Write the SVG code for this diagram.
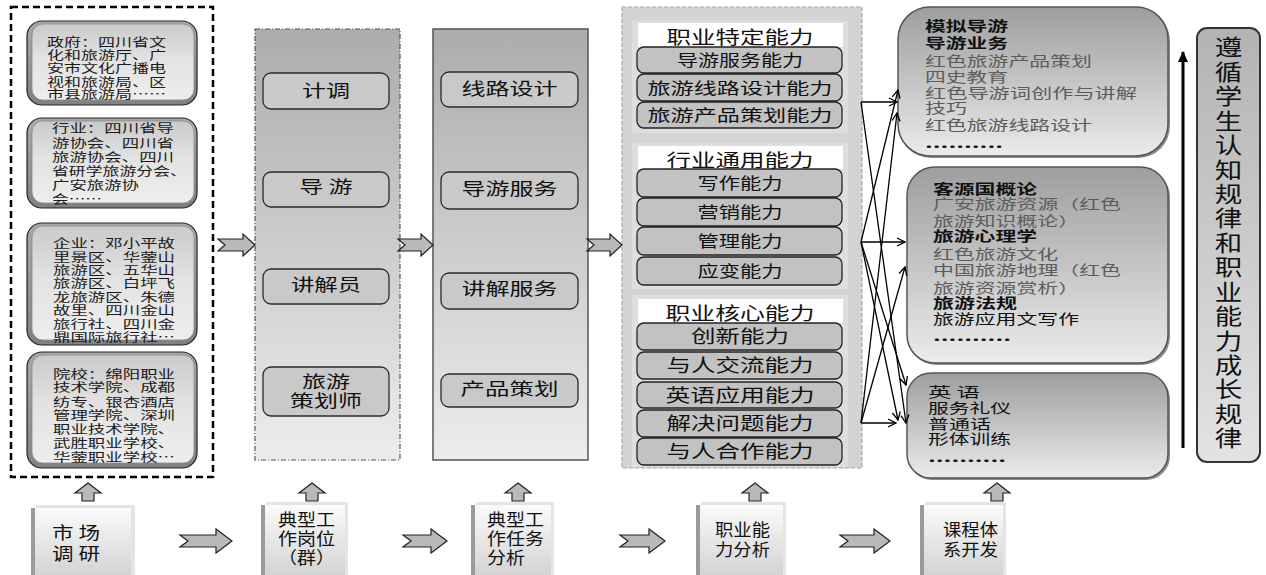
<svg xmlns="http://www.w3.org/2000/svg" width="1266" height="575" viewBox="0 0 1266 575">
<defs>
<linearGradient id="gBevel" x1="0" y1="0" x2="0" y2="1"><stop offset="0" stop-color="#a8a8a8"/><stop offset="1" stop-color="#808080"/></linearGradient>
<linearGradient id="gLeftIn" x1="0" y1="0" x2="0" y2="1"><stop offset="0" stop-color="#cacaca"/><stop offset="0.45" stop-color="#e2e2e2"/><stop offset="1" stop-color="#eeeeee"/></linearGradient>
<linearGradient id="gCol" x1="0" y1="0" x2="0" y2="1"><stop offset="0" stop-color="#acacac"/><stop offset="1" stop-color="#ececec"/></linearGradient>
<linearGradient id="gCourse" x1="0" y1="0" x2="0" y2="1"><stop offset="0" stop-color="#9e9e9e"/><stop offset="1" stop-color="#ebebeb"/></linearGradient>
<linearGradient id="gBottom" x1="0" y1="0" x2="0" y2="1"><stop offset="0" stop-color="#fbfbfb"/><stop offset="1" stop-color="#d3d3d3"/></linearGradient>
<linearGradient id="gVert" x1="0" y1="0" x2="0" y2="1"><stop offset="0" stop-color="#b3b3b3"/><stop offset="1" stop-color="#e3e3e3"/></linearGradient>
<marker id="ah" markerWidth="10" markerHeight="10" refX="9" refY="5" orient="auto" markerUnits="userSpaceOnUse"><path d="M1,1 L9,5 L1,9" fill="none" stroke="#000" stroke-width="1.3"/></marker>
<marker id="ahBig" markerWidth="12" markerHeight="12" refX="10" refY="6" orient="auto" markerUnits="userSpaceOnUse"><path d="M0,1 L11,6 L0,11 Z" fill="#000"/></marker>
</defs>
<style>
.cjk{font-family:"Noto Sans CJK SC","Noto Sans CJK JP",sans-serif;}
.lt{font-size:12px;fill:#1a1a1a;}
.c2{font-size:17px;fill:#111;text-anchor:middle;}
.sub{font-size:16px;fill:#111;text-anchor:middle;}
.hd{font-size:18px;fill:#111;text-anchor:middle;}
.ct{font-size:13.5px;fill:#111;}
.bt{font-size:17px;fill:#111;}
.b{font-weight:bold;}
.gr{fill:#5c5c5c;}
.bevel{fill:url(#gBevel);stroke:#222;stroke-width:1.2;}
.bevin{fill:url(#gLeftIn);stroke:#8a8a8a;stroke-width:0.8;}
.ibox{fill:#c9c9c9;stroke:#2a2a2a;stroke-width:1.3;}
.sbox{fill:#c2c2c2;stroke:#222;stroke-width:1.3;}
.chev{fill:#b9b9b9;stroke:#222;stroke-width:1.2;}
.course{fill:url(#gCourse);stroke:#555;stroke-width:1.5;}
.shadow{fill:#8c8c8c;}
.bback{fill:#e4e4e4;}
.bfront{fill:url(#gBottom);}
.bbar{fill:#9a9a9a;}
.conn line{stroke:#000;stroke-width:1.3;marker-end:url(#ah);}
</style>
<rect width="1266" height="575" fill="#fff"/>

<g id="stakeholders">
<rect x="11" y="7" width="202" height="470" fill="none" stroke="#000" stroke-width="2.5" stroke-dasharray="7 4"/>
</g>
<g id="gov">
<rect class="bevel" x="27" y="21" width="170" height="84" rx="15"/>
<rect class="bevin" x="32" y="24" width="162" height="76" rx="11"/>
<text class="cjk lt"><tspan x="47" y="47" textLength="119" lengthAdjust="spacingAndGlyphs">政府：四川省文</tspan><tspan x="47" y="60" textLength="119" lengthAdjust="spacingAndGlyphs">化和旅游厅、广</tspan><tspan x="47" y="73" textLength="119" lengthAdjust="spacingAndGlyphs">安市文化广播电</tspan><tspan x="47" y="87" textLength="119" lengthAdjust="spacingAndGlyphs">视和旅游局、区</tspan><tspan x="47" y="99" textLength="119" lengthAdjust="spacingAndGlyphs">市县旅游局……</tspan></text>
</g>
<g id="industry">
<rect class="bevel" x="27" y="118" width="170" height="90" rx="15"/>
<rect class="bevin" x="32" y="121" width="162" height="82" rx="11"/>
<text class="cjk lt"><tspan x="52" y="133" textLength="122" lengthAdjust="spacingAndGlyphs">行业：四川省导</tspan><tspan x="52" y="148" textLength="122" lengthAdjust="spacingAndGlyphs">游协会、四川省</tspan><tspan x="52" y="162" textLength="122" lengthAdjust="spacingAndGlyphs">旅游协会、四川</tspan><tspan x="52" y="176" textLength="135" lengthAdjust="spacingAndGlyphs">省研学旅游分会、</tspan><tspan x="52" y="190" textLength="87" lengthAdjust="spacingAndGlyphs">广安旅游协</tspan><tspan x="52" y="204" textLength="50" lengthAdjust="spacingAndGlyphs">会……</tspan></text>
</g>
<g id="enterprise">
<rect class="bevel" x="27" y="223" width="170" height="122" rx="15"/>
<rect class="bevin" x="32" y="226" width="162" height="114" rx="11"/>
<text class="cjk lt"><tspan x="53" y="248" textLength="122" lengthAdjust="spacingAndGlyphs">企业：邓小平故</tspan><tspan x="53" y="262" textLength="122" lengthAdjust="spacingAndGlyphs">里景区、华蓥山</tspan><tspan x="53" y="275" textLength="122" lengthAdjust="spacingAndGlyphs">旅游区、五华山</tspan><tspan x="53" y="288" textLength="122" lengthAdjust="spacingAndGlyphs">旅游区、白坪飞</tspan><tspan x="53" y="302" textLength="122" lengthAdjust="spacingAndGlyphs">龙旅游区、朱德</tspan><tspan x="53" y="315" textLength="122" lengthAdjust="spacingAndGlyphs">故里、四川金山</tspan><tspan x="53" y="329" textLength="122" lengthAdjust="spacingAndGlyphs">旅行社、四川金</tspan><tspan x="53" y="342" textLength="122" lengthAdjust="spacingAndGlyphs">鼎国际旅行社…</tspan></text>
</g>
<g id="college">
<rect class="bevel" x="27" y="352" width="170" height="116" rx="15"/>
<rect class="bevin" x="32" y="355" width="162" height="108" rx="11"/>
<text class="cjk lt"><tspan x="53" y="379" textLength="122" lengthAdjust="spacingAndGlyphs">院校：绵阳职业</tspan><tspan x="53" y="392" textLength="122" lengthAdjust="spacingAndGlyphs">技术学院、成都</tspan><tspan x="53" y="407" textLength="122" lengthAdjust="spacingAndGlyphs">纺专、银杏酒店</tspan><tspan x="53" y="420" textLength="122" lengthAdjust="spacingAndGlyphs">管理学院、深圳</tspan><tspan x="53" y="434" textLength="122" lengthAdjust="spacingAndGlyphs">职业技术学院、</tspan><tspan x="53" y="448" textLength="122" lengthAdjust="spacingAndGlyphs">武胜职业学校、</tspan><tspan x="53" y="462" textLength="122" lengthAdjust="spacingAndGlyphs">华蓥职业学校…</tspan></text>
</g>

<g id="positions">
<rect x="255" y="29" width="145" height="431" fill="url(#gCol)" stroke="#555" stroke-width="1.2" stroke-dasharray="5 2 1 2"/>
</g>
<g id="pos-jidiao"><rect class="ibox" x="263" y="73" width="126" height="36" rx="8"/><text class="cjk c2" x="326" y="97" textLength="48" lengthAdjust="spacingAndGlyphs">计调</text></g>
<g id="pos-daoyou"><rect class="ibox" x="263" y="172" width="126" height="35" rx="8"/><text class="cjk c2" x="326" y="193" textLength="53" lengthAdjust="spacingAndGlyphs">导 游</text></g>
<g id="pos-jiangjie"><rect class="ibox" x="263" y="269" width="126" height="35" rx="8"/><text class="cjk c2" x="326" y="291" textLength="70" lengthAdjust="spacingAndGlyphs">讲解员</text></g>
<g id="pos-cehua"><rect class="ibox" x="263" y="367" width="126" height="49" rx="8" fill="#c0c0c0"/><text class="cjk c2"><tspan x="326" y="388" textLength="48" lengthAdjust="spacingAndGlyphs">旅游</tspan><tspan x="326" y="407" textLength="72" lengthAdjust="spacingAndGlyphs">策划师</tspan></text></g>

<g id="tasks">
<rect x="433" y="29" width="155" height="431" fill="url(#gCol)" stroke="#555" stroke-width="1.5"/>
</g>
<g id="task-xianlu"><rect class="ibox" x="441" y="72" width="137" height="35" rx="8"/><text class="cjk c2" x="509.5" y="95" textLength="96" lengthAdjust="spacingAndGlyphs">线路设计</text></g>
<g id="task-daoyou"><rect class="ibox" x="441" y="172" width="137" height="37" rx="8"/><text class="cjk c2" x="509.5" y="195" textLength="96" lengthAdjust="spacingAndGlyphs">导游服务</text></g>
<g id="task-jiangjie"><rect class="ibox" x="441" y="273" width="137" height="36" rx="8"/><text class="cjk c2" x="509.5" y="295" textLength="96" lengthAdjust="spacingAndGlyphs">讲解服务</text></g>
<g id="task-chanpin"><rect class="ibox" x="441" y="374" width="137" height="33" rx="8"/><text class="cjk c2" x="509.5" y="395" textLength="98" lengthAdjust="spacingAndGlyphs">产品策划</text></g>

<g id="abilities">
<rect x="622" y="7" width="240" height="461" fill="#d4d4d4" stroke="#a8a8a8" stroke-width="1.2" stroke-dasharray="4 2"/>
<rect x="632" y="21" width="216" height="112" fill="#dedede"/>
<rect x="632" y="143" width="216" height="146" fill="#dedede"/>
<rect x="632" y="295" width="216" height="172" fill="#dedede"/>
</g>
<g id="ab-specific">
<rect x="638" y="23" width="205" height="24" fill="#fff"/>
<text class="cjk hd" x="740" y="44" textLength="147" lengthAdjust="spacingAndGlyphs">职业特定能力</text>
<rect class="sbox" x="637" y="47" width="205" height="26" rx="7"/><text class="cjk sub" x="740" y="66" textLength="126" lengthAdjust="spacingAndGlyphs">导游服务能力</text>
<rect class="sbox" x="637" y="74" width="205" height="27" rx="7"/><text class="cjk sub" x="740" y="93.5" textLength="185" lengthAdjust="spacingAndGlyphs">旅游线路设计能力</text>
<rect class="sbox" x="637" y="102" width="205" height="26" rx="7"/><text class="cjk sub" x="740" y="121" textLength="185" lengthAdjust="spacingAndGlyphs">旅游产品策划能力</text>
</g>
<g id="ab-general">
<rect x="638" y="146" width="205" height="23" fill="#fff"/>
<text class="cjk hd" x="740" y="167" textLength="147" lengthAdjust="spacingAndGlyphs">行业通用能力</text>
<rect class="sbox" x="637" y="169" width="205" height="28" rx="7"/><text class="cjk sub" x="740" y="189" textLength="85" lengthAdjust="spacingAndGlyphs">写作能力</text>
<rect class="sbox" x="637" y="198" width="205" height="28" rx="7"/><text class="cjk sub" x="740" y="218" textLength="85" lengthAdjust="spacingAndGlyphs">营销能力</text>
<rect class="sbox" x="637" y="227" width="205" height="28" rx="7"/><text class="cjk sub" x="740" y="247" textLength="85" lengthAdjust="spacingAndGlyphs">管理能力</text>
<rect class="sbox" x="637" y="257" width="205" height="28" rx="7"/><text class="cjk sub" x="740" y="277" textLength="85" lengthAdjust="spacingAndGlyphs">应变能力</text>
</g>
<g id="ab-core">
<rect x="638" y="299" width="205" height="24" fill="#fff"/>
<text class="cjk hd" x="740" y="320" textLength="149" lengthAdjust="spacingAndGlyphs">职业核心能力</text>
<rect class="sbox" x="637" y="323" width="205" height="27" rx="7"/><text class="cjk hd" x="740" y="343" textLength="98" lengthAdjust="spacingAndGlyphs">创新能力</text>
<rect class="sbox" x="637" y="352" width="205" height="27" rx="7"/><text class="cjk hd" x="740" y="372" textLength="147" lengthAdjust="spacingAndGlyphs">与人交流能力</text>
<rect class="sbox" x="637" y="382" width="205" height="26" rx="7"/><text class="cjk hd" x="740" y="401.5" textLength="149" lengthAdjust="spacingAndGlyphs">英语应用能力</text>
<rect class="sbox" x="637" y="410" width="205" height="27" rx="7"/><text class="cjk hd" x="740" y="430" textLength="147" lengthAdjust="spacingAndGlyphs">解决问题能力</text>
<rect class="sbox" x="637" y="438" width="205" height="27" rx="7"/><text class="cjk hd" x="740" y="458" textLength="147" lengthAdjust="spacingAndGlyphs">与人合作能力</text>
</g>

<g id="course-a">
<rect class="shadow" x="899" y="9" width="271" height="149" rx="32"/>
<rect class="course" x="898" y="7" width="270" height="149" rx="32"/>
<text class="cjk ct"><tspan class="b" x="925" y="30.5" textLength="83" lengthAdjust="spacingAndGlyphs">模拟导游</tspan><tspan class="b" x="925" y="47.5" textLength="83" lengthAdjust="spacingAndGlyphs">导游业务</tspan><tspan class="gr" x="925" y="65.5" textLength="167" lengthAdjust="spacingAndGlyphs">红色旅游产品策划</tspan><tspan class="gr" x="925" y="81.5" textLength="83" lengthAdjust="spacingAndGlyphs">四史教育</tspan><tspan class="gr" x="925" y="97.5" textLength="212" lengthAdjust="spacingAndGlyphs">红色导游词创作与讲解</tspan><tspan class="gr" x="925" y="112.5" textLength="42" lengthAdjust="spacingAndGlyphs">技巧</tspan><tspan class="gr" x="925" y="129.5" textLength="167" lengthAdjust="spacingAndGlyphs">红色旅游线路设计</tspan><tspan class="b" x="925" y="148" textLength="78" lengthAdjust="spacingAndGlyphs">..........</tspan></text>
</g>
<g id="course-b">
<rect class="shadow" x="908" y="169" width="262" height="196" rx="28"/>
<rect class="course" x="907" y="167" width="261" height="196" rx="28"/>
<text class="cjk ct"><tspan class="b" x="933" y="193.5" textLength="104" lengthAdjust="spacingAndGlyphs">客源国概论</tspan><tspan class="gr" x="933" y="208.5" textLength="188" lengthAdjust="spacingAndGlyphs">广安旅游资源（红色</tspan><tspan class="gr" x="933" y="225.5" textLength="146" lengthAdjust="spacingAndGlyphs">旅游知识概论）</tspan><tspan class="b" x="933" y="240.5" textLength="104" lengthAdjust="spacingAndGlyphs">旅游心理学</tspan><tspan class="gr" x="933" y="258.5" textLength="125" lengthAdjust="spacingAndGlyphs">红色旅游文化</tspan><tspan class="gr" x="933" y="274.5" textLength="188" lengthAdjust="spacingAndGlyphs">中国旅游地理（红色</tspan><tspan class="gr" x="933" y="292.5" textLength="146" lengthAdjust="spacingAndGlyphs">旅游资源赏析）</tspan><tspan class="b" x="933" y="307.5" textLength="84" lengthAdjust="spacingAndGlyphs">旅游法规</tspan><tspan x="933" y="323.5" textLength="146" lengthAdjust="spacingAndGlyphs">旅游应用文写作</tspan><tspan class="b" x="933" y="341" textLength="78" lengthAdjust="spacingAndGlyphs">..........</tspan></text>
</g>
<g id="course-c">
<rect class="shadow" x="908" y="375" width="262" height="105" rx="24"/>
<rect class="course" x="907" y="373" width="261" height="105" rx="24"/>
<text class="cjk ct"><tspan x="928" y="396.5" textLength="52" lengthAdjust="spacingAndGlyphs">英 语</tspan><tspan x="928" y="412.5" textLength="83" lengthAdjust="spacingAndGlyphs">服务礼仪</tspan><tspan x="928" y="428.5" textLength="63" lengthAdjust="spacingAndGlyphs">普通话</tspan><tspan x="928" y="443.5" textLength="83" lengthAdjust="spacingAndGlyphs">形体训练</tspan><tspan class="b" x="928" y="462" textLength="78" lengthAdjust="spacingAndGlyphs">..........</tspan></text>
</g>

<g id="rule">
<rect x="1197" y="28" width="63" height="434" rx="10" fill="url(#gVert)" stroke="#333" stroke-width="2"/>
<g transform="translate(1228.5,0) scale(1.25,1)">
<text class="cjk" x="0" y="36" font-size="22" fill="#111" writing-mode="vertical-rl" letter-spacing="2.44">遵循学生认知规律和职业能力成长规律</text>
</g>
</g>

<g id="step-market">
<rect class="bback" x="36" y="505" width="99" height="70"/>
<rect class="bfront" x="31" y="508" width="100" height="67"/>
<rect class="bbar" x="31" y="508" width="4" height="67"/>
<text class="cjk bt"><tspan x="52" y="539" textLength="48" lengthAdjust="spacingAndGlyphs">市 场</tspan><tspan x="52" y="560" textLength="48" lengthAdjust="spacingAndGlyphs">调 研</tspan></text>
</g>
<g id="step-position">
<rect class="bback" x="266" y="502" width="82" height="73"/>
<rect class="bfront" x="261" y="505" width="84" height="70"/>
<rect class="bbar" x="261" y="505" width="4" height="70"/>
<text class="cjk bt"><tspan x="278" y="526" textLength="57" lengthAdjust="spacingAndGlyphs">典型工</tspan><tspan x="278" y="545" textLength="57" lengthAdjust="spacingAndGlyphs">作岗位</tspan><tspan x="278" y="564" textLength="57" lengthAdjust="spacingAndGlyphs">（群）</tspan></text>
</g>
<g id="step-task">
<rect class="bback" x="476" y="502" width="78" height="73"/>
<rect class="bfront" x="471" y="505" width="80" height="70"/>
<rect class="bbar" x="471" y="505" width="4" height="70"/>
<text class="cjk bt"><tspan x="487" y="526" textLength="57" lengthAdjust="spacingAndGlyphs">典型工</tspan><tspan x="487" y="545" textLength="57" lengthAdjust="spacingAndGlyphs">作任务</tspan><tspan x="487" y="564" textLength="38" lengthAdjust="spacingAndGlyphs">分析</tspan></text>
</g>
<g id="step-ability">
<rect class="bback" x="701" y="502" width="85" height="73"/>
<rect class="bfront" x="696" y="505" width="87" height="70"/>
<rect class="bbar" x="696" y="505" width="4" height="70"/>
<text class="cjk bt"><tspan x="715" y="536" textLength="55" lengthAdjust="spacingAndGlyphs">职业能</tspan><tspan x="715" y="556" textLength="55" lengthAdjust="spacingAndGlyphs">力分析</tspan></text>
</g>
<g id="step-course">
<rect class="bback" x="925" y="502" width="81" height="73"/>
<rect class="bfront" x="920" y="505" width="83" height="70"/>
<rect class="bbar" x="920" y="505" width="4" height="70"/>
<text class="cjk bt"><tspan x="943" y="536" textLength="55" lengthAdjust="spacingAndGlyphs">课程体</tspan><tspan x="943" y="556" textLength="55" lengthAdjust="spacingAndGlyphs">系开发</tspan></text>
</g>

<g id="connectors">
<g id="block-arrows">
<polygon class="chev" points="218,239 243,239 243,234 255,245 243,256 243,251 218,251 225,245"/>
<polygon class="chev" points="398,239 421,239 421,234 433,245 421,256 421,251 398,251 405,245"/>
<polygon class="chev" points="587,239 610,239 610,234 622,245 610,256 610,251 587,251 594,245"/>
<polygon class="chev" points="180,535 216,535 216,529 232,541 216,553 216,547 180,547 188,541"/>
<polygon class="chev" points="403,535 431,535 431,529 447,541 431,553 431,547 403,547 411,541"/>
<polygon class="chev" points="620,535 649,535 649,529 665,541 649,553 649,547 620,547 628,541"/>
<polygon class="chev" points="840,535 874,535 874,529 890,541 874,553 874,547 840,547 848,541"/>
<polygon class="chev" points="88,483 101,493 94,493 94,501 82,501 82,493 75,493"/>
<polygon class="chev" points="312,483 325,493 318,493 318,501 306,501 306,493 299,493"/>
<polygon class="chev" points="518,483 531,493 524,493 524,501 512,501 512,493 505,493"/>
<polygon class="chev" points="755,483 768,493 761,493 761,501 749,501 749,493 742,493"/>
<polygon class="chev" points="997,483 1010,493 1003,493 1003,501 991,501 991,493 984,493"/>
</g>
<g class="conn">
<line x1="861" y1="102" x2="897" y2="102"/>
<line x1="861" y1="242" x2="905" y2="242"/>
<line x1="861" y1="423" x2="896" y2="423"/>
<line x1="861" y1="242" x2="898" y2="90"/>
<line x1="861" y1="423" x2="897" y2="113"/>
<line x1="861" y1="423" x2="905" y2="267"/>
<line x1="861" y1="102" x2="906" y2="423"/>
<line x1="861" y1="242" x2="906" y2="385"/>
<line x1="861" y1="242" x2="898" y2="420"/>
</g>
<line x1="1183" y1="448" x2="1183" y2="52" stroke="#000" stroke-width="3" marker-end="url(#ahBig)"/>
</g>
</svg>
